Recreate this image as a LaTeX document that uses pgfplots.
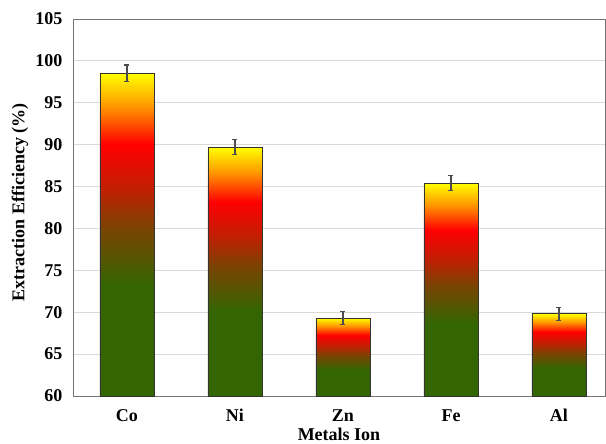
\documentclass[border=0pt]{standalone}
\usepackage{fontspec}
\setmainfont{Liberation Serif}
\usepackage{pgfplots}
\pgfplotsset{compat=1.18}
\definecolor{bgreen}{RGB}{51,102,0}
\definecolor{bbrown}{RGB}{122,68,0}
\definecolor{bdred}{RGB}{192,32,0}
\definecolor{bred}{RGB}{255,0,0}
\definecolor{borange}{RGB}{255,153,0}
\definecolor{byellow}{RGB}{255,255,0}
\pgfdeclareverticalshading{barshade}{100bp}{color(0bp)=(bgreen); color(25bp)=(bgreen); color(42bp)=(bgreen); color(51bp)=(bbrown); color(57bp)=(bdred); color(64bp)=(bred); color(70bp)=(borange); color(75bp)=(byellow); color(100bp)=(byellow)}
\begin{document}
\begin{tikzpicture}
\useasboundingbox (-73pt,-48pt) rectangle (533pt,396pt);
\begin{axis}[
  at={(0,0)}, anchor=south west,
  scale only axis, width=532pt, height=377pt,
  xmin=-0.5, xmax=4.426, ymin=60, ymax=105,
  ytick={60,65,...,105},
  xtick={0,1,2,3,4}, xticklabels={Co,Ni,Zn,Fe,Al},
  major tick length=0pt,
  ymajorgrids, grid style={draw=black!15, line width=0.8pt},
  axis line style={draw=black!55, line width=0.8pt},
  /pgf/number format/assume math mode=true,
  ticklabel style={font=\bfseries\fontsize{18}{18}\selectfont},
  xticklabel style={yshift=-9pt, text height=13pt, text depth=4pt},
  yticklabel style={xshift=-7pt},
  every axis x label/.style={at={(axis description cs:0.5,0)}, anchor=center, yshift=-38pt},
  every axis y label/.style={at={(axis description cs:0,0.5)}, anchor=center, xshift=-53pt, yshift=5pt, rotate=90},
  label style={font=\bfseries\fontsize{18}{18}\selectfont},
  xlabel={Metals Ion},
  ylabel={Extraction Efficiency (\%)},
  clip=false,
  barstyle/.style={ybar, bar width=54pt, bar shift=0pt, shading=barshade, draw=black!80, line width=0.8pt},
]
\addplot[barstyle] coordinates {(0,98.5)};
\addplot[barstyle] coordinates {(1,89.7)};
\addplot[barstyle] coordinates {(2,69.3)};
\addplot[barstyle] coordinates {(3,85.4)};
\addplot[barstyle] coordinates {(4,69.8)};
\addplot[draw=none, mark=none,
  error bars/.cd, y dir=both, y explicit,
  error bar style={draw=black!70, line width=1.8pt},
  error mark options={draw=black!70, line width=1.2pt, rotate=90, mark size=2.5pt}]
  table[x=x, y=y, y error=e] {
x y e
0 98.5 1.0
1 89.7 0.9
2 69.3 0.75
3 85.4 0.9
4 69.8 0.75
};
\end{axis}
\end{tikzpicture}
\end{document}
